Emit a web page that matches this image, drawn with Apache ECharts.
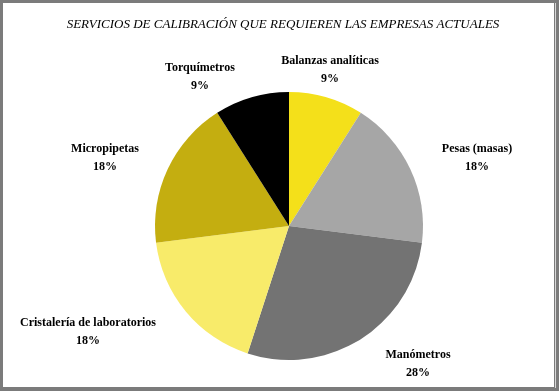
<!DOCTYPE html>
<html>
<head>
<meta charset="utf-8">
<script src="https://cdn.jsdelivr.net/npm/echarts@6/dist/echarts.min.js"></script>
<style>
html,body{margin:0;padding:0;background:#7b7b7b;width:559px;height:391px;overflow:hidden;}
#c{position:absolute;left:3px;top:3px;width:551px;height:384px;background:#fff;}
#edge{position:absolute;left:555px;top:3px;width:1px;height:385px;background:#d8d8d8;}
</style>
</head>
<body>
<div id="c"></div>
<div id="edge"></div>
<script>
const categories = ['Balanzas analíticas','Pesas (masas)','Manómetros','Cristalería de laboratorios','Micropipetas','Torquímetros'];
const values = [9, 18, 28, 18, 18, 9];
const colors = ['#F4E01A','#A6A6A6','#737373','#F8EB6A','#C4AE10','#000000'];
// label placement offsets from the pie centre (layout only)
const labelOffsets = [[41,-156],[188,-68],[129,138],[-201,106],[-184,-68],[-89,-149]];
const pieCenter = [286, 223];
const pieRadius = 134;

const chart = echarts.init(document.getElementById('c'));
chart.setOption({
  animation: false,
  title: {
    text: 'SERVICIOS DE CALIBRACIÓN QUE REQUIEREN LAS EMPRESAS ACTUALES',
    left: 275, textAlign: 'center', top: 10,
    textStyle: {fontFamily: 'Liberation Serif', fontStyle: 'italic', fontWeight: 'normal', fontSize: 13, color: '#000'}
  },
  series: [{
    type: 'pie',
    center: pieCenter,
    radius: pieRadius,
    startAngle: 90,
    clockwise: true,
    data: categories.map((n,i)=>({name:n, value:values[i], itemStyle:{color:colors[i]}})),
    itemStyle: {borderWidth: 0},
    label: {
      show: true,
      formatter: p => p.name + '\n' + p.value + '%',
      fontFamily: 'Liberation Serif', fontWeight: 'bold', fontSize: 12, color: '#000',
      lineHeight: 18, align: 'center', overflow: 'none'
    },
    labelLine: {show: false},
    labelLayout: p => ({
      x: pieCenter[0] + labelOffsets[p.dataIndex][0],
      y: pieCenter[1] + labelOffsets[p.dataIndex][1],
      align: 'center', verticalAlign: 'middle'
    })
  }]
});
</script>
</body>
</html>
